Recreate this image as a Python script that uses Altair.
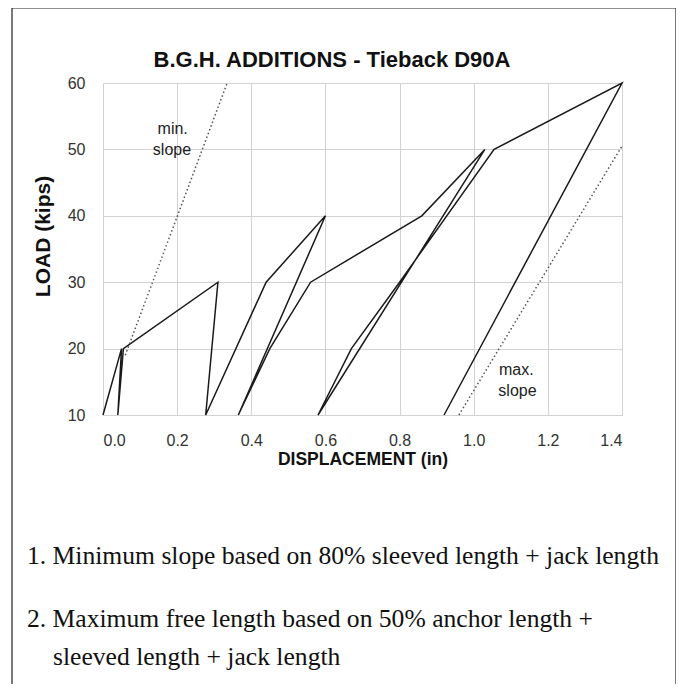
import altair as alt
import pandas as pd

# Load test path (displacement in, load kips), in the order it was traced
disp = [0.0, 0.05, 0.04, 0.055, 0.31, 0.277, 0.44, 0.60, 0.365, 0.45, 0.56, 0.86, 1.03, 0.58, 0.67, 0.80, 1.055, 1.40, 0.92]
load = [10, 20, 10, 20, 30, 10, 30, 40, 10, 20, 30, 40, 50, 10, 20, 30, 50, 60, 10]

# Reference slopes (dotted)
min_slope_x = [0.06, 0.335]
min_slope_y = [19, 60]
max_slope_x = [0.96, 1.40]
max_slope_y = [10, 50.5]

x_ticks = [0.0, 0.2, 0.4, 0.6, 0.8, 1.0, 1.2, 1.4]
y_ticks = [10, 20, 30, 40, 50, 60]

note_words = ["min.", "slope", "max.", "slope"]
note_x = [0.188, 0.186, 1.115, 1.118]
note_y = [53.0, 49.9, 16.8, 13.6]

title_text = "B.G.H. ADDITIONS - Tieback D90A"
x_title = "DISPLACEMENT (in)"
y_title = "LOAD (kips)"
notes = [
    "1. Minimum slope based on 80% sleeved length + jack length",
    "2. Maximum free length based on 50% anchor length +",
    "sleeved length + jack length",
]

W, H = 519, 332
PL, PT = 95, 75
SANS = "Liberation Sans"
SERIF = "Liberation Serif"

path_df = pd.DataFrame({"disp": disp, "load": load, "idx": list(range(len(disp)))})
ref_df = pd.DataFrame({
    "disp": min_slope_x + max_slope_x,
    "load": min_slope_y + max_slope_y,
    "series": ["min", "min", "max", "max"],
})
lab_df = pd.DataFrame({"disp": note_x, "load": note_y, "word": note_words})

xs = alt.Scale(domain=[0, 1.4], nice=False, zero=False)
ys = alt.Scale(domain=[10, 60], nice=False, zero=False)

x_axis = alt.Axis(values=x_ticks, format=".1f", grid=True, gridColor="#d2d2d2", gridWidth=1,
                  tickSize=0, domain=False, labelFont=SANS, labelFontSize=16, labelColor="#333",
                  labelPadding=17, title=x_title, titleFont=SANS, titleFontSize=17.5,
                  titleFontWeight="bold", titleColor="#111", titlePadding=2)
y_axis = alt.Axis(values=y_ticks, grid=True, gridColor="#d2d2d2", gridWidth=1,
                  tickSize=0, domain=False, labelFont=SANS, labelFontSize=16, labelColor="#333",
                  labelPadding=18, title=y_title, titleFont=SANS, titleFontSize=21,
                  titleFontWeight="bold", titleColor="#111", titleBaseline="middle",
                  titleX=43 - (8 + PL), titleY=236 - (8 + PT))

path = alt.Chart(path_df).mark_line(color="#1a1a1a", strokeWidth=1.5).encode(
    x=alt.X("disp:Q", scale=xs, axis=x_axis),
    y=alt.Y("load:Q", scale=ys, axis=y_axis),
    order="idx:Q",
)

refs = alt.Chart(ref_df).mark_line(color="#555", strokeWidth=1.5, strokeDash=[1.5, 2.5]).encode(
    x=alt.X("disp:Q", scale=xs),
    y=alt.Y("load:Q", scale=ys),
    detail="series:N",
)

labels = alt.Chart(lab_df).mark_text(font=SANS, fontSize=16, color="#222").encode(
    x=alt.X("disp:Q", scale=xs),
    y=alt.Y("load:Q", scale=ys),
    text="word:N",
)

one = pd.DataFrame({"k": [0]})
border = alt.Chart(one).mark_rect(fill="transparent", stroke="#222", strokeWidth=1.2).encode(
    x=alt.value(12 - (8 + PL)), x2=alt.value(676 - (8 + PL)),
    y=alt.value(8 - (8 + PT)), y2=alt.value(H + 320)
)

title = alt.Chart(pd.DataFrame({"t": [title_text]})).mark_text(
    font=SANS, fontSize=22, fontWeight="bold", color="#111", align="center", baseline="alphabetic"
).encode(text="t:N", x=alt.value(332 - (8 + PL)), y=alt.value(67 - (8 + PT)))

def note_layer(txt, px, py):
    return alt.Chart(pd.DataFrame({"t": [txt]})).mark_text(
        font=SERIF, fontSize=25.6, color="#111", align="left", baseline="middle"
    ).encode(text="t:N", x=alt.value(px - (8 + PL)), y=alt.value(py - (8 + PT)))

n1 = note_layer(notes[0], 27, 556)
n2 = note_layer(notes[1], 27, 619)
n3 = note_layer(notes[2], 53, 657)

chart = alt.layer(border, path, refs, labels, title, n1, n2, n3).properties(
    width=W, height=H,
    autosize=alt.AutoSizeParams(type="none"),
    padding={"left": PL, "top": PT, "right": 684 - 16 - PL - W, "bottom": 692 - 16 - PT - H},
).configure_view(stroke="#222", strokeWidth=1.5).configure(background="white")

chart.save("out.html", embed_options={"renderer": "svg", "actions": False})
